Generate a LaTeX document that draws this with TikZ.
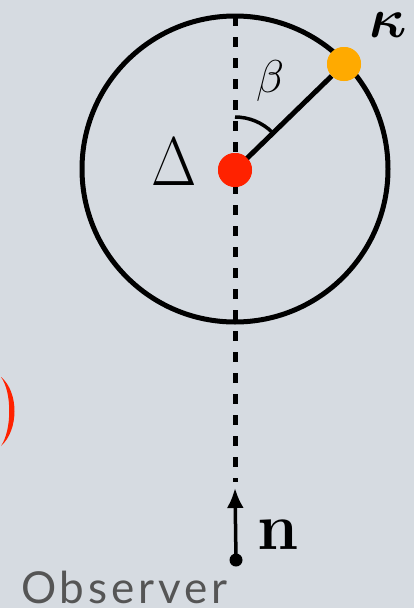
\RequirePackage{fix-cm}
\documentclass[tikz,border=0pt]{standalone}
\usepackage[no-math]{fontspec}
\usepackage{bm}
\newfontfamily\obsfont{Lato}[LetterSpace=9]
\usetikzlibrary{arrows.meta}
\definecolor{bgcol}{RGB}{214,219,225}
\definecolor{dotred}{RGB}{255,34,0}
\definecolor{dotorange}{RGB}{255,170,0}
\definecolor{obsgray}{RGB}{85,85,85}
\begin{document}
\begin{tikzpicture}[x=1pt,y=-1pt,
  blk/.style={line width=5pt,black},
  dashline/.style={line width=5pt,black,dash pattern=on 10pt off 11pt},
  dotstyle/.style={circle,inner sep=0pt,minimum size=#1},
]
\fill[bgcol] (0,0) rectangle (414,608);
\useasboundingbox (0,0) rectangle (414,608);
% circle
\draw[blk] (235,169) circle[radius=153];
\coordinate (top) at (235,16);
\coordinate (tip) at (235,488);
\draw[dashline] (top) -- (235,482);
% radius line and dots
\node[dotstyle=34pt,fill=dotred] (c) at (235,170) {};
\node[dotstyle=34pt,fill=dotorange] (k) at (344,64) {};
\draw[blk] (c.center) -- (k);
\node[dotstyle=34pt,fill=dotred] at (c.center) {};
\node[dotstyle=34pt,fill=dotorange] at (k.center) {};
% angle arc
\draw[line width=3.5pt] (235,117) arc[start angle=-90,end angle=-45,radius=53];
% labels
\node[inner sep=0pt] (beta) at (270,81) {\fontsize{46}{46}\selectfont$\beta$};
\node[inner sep=0pt] (kappa) at (388,25) {\fontsize{56}{56}\selectfont$\bm{\kappa}$};
\node[inner sep=0pt] (delta) at (174,162) {\scalebox{0.85}[1]{\fontsize{69}{69}\selectfont$\Delta$}};
% observer
\node[dotstyle=13pt,fill=black] (o) at (236,560) {};
\draw[line width=3.5pt,-{Latex[length=20pt,width=17pt]}] (o.center) -- (tip);
\node[inner sep=0pt] (n) at (278,535) {\fontsize{66}{66}\selectfont$\mathbf{n}$};
\node[anchor=base west,inner sep=0pt,text=obsgray] (obs) at (21,603) {\obsfont\fontsize{44}{44}\selectfont Observer};
% red parenthesis
\fill[dotred] (1,377) .. controls (19,392) and (19,430) .. (1,446)
   .. controls (12,430) and (12,392) .. (1,377) -- cycle;
\end{tikzpicture}
\end{document}
